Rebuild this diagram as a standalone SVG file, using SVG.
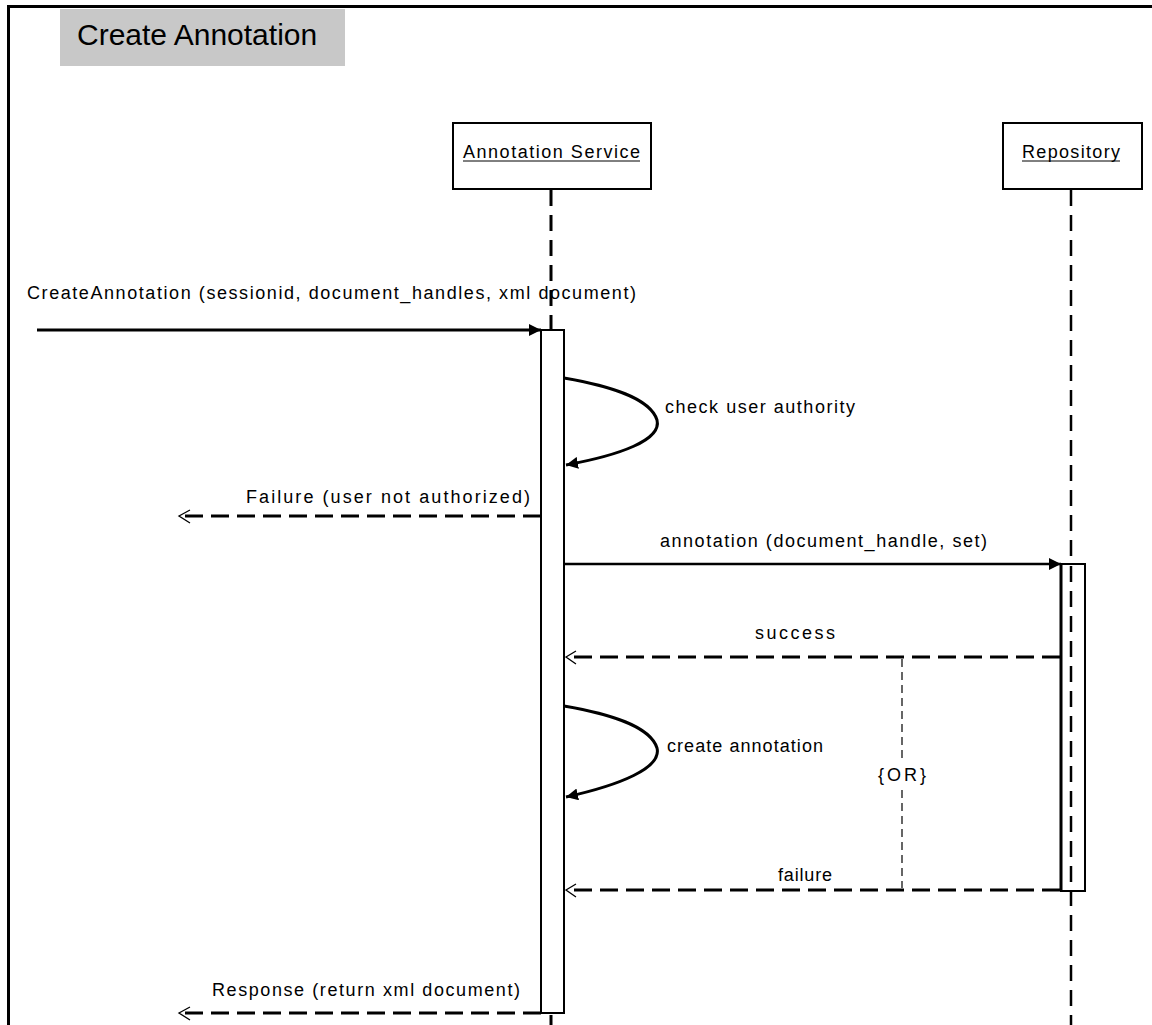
<svg xmlns="http://www.w3.org/2000/svg" width="1152" height="1025" viewBox="0 0 1152 1025">
  <defs>
    <style>
      .lbl { font-family: "Liberation Sans", Arial, sans-serif; font-size: 18px; fill: #000; }
      .title { font-family: "Liberation Sans", Arial, sans-serif; font-size: 30px; fill: #000; }
      .box { fill: #fff; stroke: #000; stroke-width: 2; }
      .act { fill: #fff; stroke: #000; stroke-width: 2; }
      .life { stroke: #000; stroke-width: 3; stroke-dasharray: 16 9; fill: none; }
      .call { stroke: #000; stroke-width: 2.5; fill: none; }
      .ret { stroke: #000; stroke-width: 3; stroke-dasharray: 18 8; fill: none; }
      .self { stroke: #000; stroke-width: 3; fill: none; }
      .open { stroke: #000; stroke-width: 1.3; fill: none; }
      .or { stroke: #000; stroke-width: 1.2; stroke-dasharray: 8 5; fill: none; }
    </style>
    <marker id="filled" viewBox="0 0 10 10" refX="10" refY="5" markerWidth="12" markerHeight="12" markerUnits="userSpaceOnUse" orient="auto">
      <path d="M0,0 L10,5 L0,10 Z" fill="#000"/>
    </marker>
  </defs>

  <!-- outer frame (right and bottom edges lie outside the page) -->
  <rect x="8.5" y="6.5" width="1200" height="1100" fill="none" stroke="#000" stroke-width="3"/>

  <!-- title tab -->
  <g id="title">
    <rect x="60" y="9" width="285" height="57" fill="#c8c8c8"/>
    <text class="title" x="77" y="45">Create Annotation</text>
  </g>

  <!-- lifelines -->
  <g id="lifelines">
    <line class="life" x1="551" y1="190" x2="551" y2="1025"/>
    <line class="life" x1="1071" y1="190" x2="1071" y2="1025" style="stroke-width:2.5"/>
  </g>

  <!-- participants -->
  <g id="annotation-service">
    <rect class="box" x="453" y="123" width="198" height="66"/>
    <text class="lbl" x="463" y="158" textLength="177" lengthAdjust="spacing">Annotation Service</text>
    <line x1="463" y1="161" x2="640" y2="161" stroke="#000" stroke-width="1"/>
  </g>
  <g id="repository">
    <rect class="box" x="1003" y="123" width="139" height="66"/>
    <text class="lbl" x="1022" y="158" textLength="98" lengthAdjust="spacing">Repository</text>
    <line x1="1022" y1="161" x2="1120" y2="161" stroke="#000" stroke-width="1"/>
  </g>

  <!-- activation bars -->
  <g id="activation-service">
    <rect class="act" x="541" y="330" width="23" height="683"/>
  </g>
  <g id="activation-repository">
    <rect class="act" x="1061" y="564" width="24" height="327"/>
    <line x1="1061" y1="564" x2="1061" y2="891" stroke="#000" stroke-width="3"/>
    <line class="life" x1="1071" y1="566" x2="1071" y2="890" style="stroke-width:2.5"/>
  </g>

  <!-- messages -->
  <g id="connectors">
    <!-- incoming request -->
    <line class="call" x1="37" y1="330" x2="541" y2="330" style="stroke-width:3" marker-end="url(#filled)"/>

    <!-- check user authority (self call) -->
    <path class="self" d="M564,378 C610,386 650,398 657,420 C662,440 620,455 566,465" marker-end="url(#filled)"/>

    <!-- failure reply to caller -->
    <line class="ret" x1="541" y1="516" x2="182" y2="516"/>
    <path class="open" d="M190,510 L179,516 L190,523"/>

    <!-- store annotation in repository -->
    <line class="call" x1="564" y1="564" x2="1061" y2="564" marker-end="url(#filled)"/>

    <!-- success reply -->
    <line class="ret" x1="1060" y1="657" x2="569" y2="657"/>
    <path class="open" d="M576,651 L566,657 L576,664"/>

    <!-- create annotation (self call) -->
    <path class="self" d="M564,706 C610,714 650,726 657,748 C662,768 620,785 566,797" marker-end="url(#filled)"/>

    <!-- failure reply -->
    <line class="ret" x1="1060" y1="890" x2="569" y2="890"/>
    <path class="open" d="M576,884 L566,890 L576,897"/>

    <!-- alternative constraint -->
    <line class="or" x1="902" y1="659" x2="902" y2="762"/>
    <line class="or" x1="902" y1="790" x2="902" y2="888"/>

    <!-- response to caller -->
    <line class="ret" x1="541" y1="1013" x2="182" y2="1013"/>
    <path class="open" d="M190,1007 L179,1013 L190,1020"/>
  </g>

  <!-- message labels -->
  <g id="labels">
    <text class="lbl" x="27" y="299" textLength="609" lengthAdjust="spacing">CreateAnnotation (sessionid, document_handles, xml document)</text>
    <text class="lbl" x="665" y="413" textLength="190" lengthAdjust="spacing">check user authority</text>
    <text class="lbl" x="246" y="503" textLength="284" lengthAdjust="spacing">Failure (user not authorized)</text>
    <text class="lbl" x="660" y="547" textLength="327" lengthAdjust="spacing">annotation (document_handle, set)</text>
    <text class="lbl" x="755" y="639" textLength="80" lengthAdjust="spacing">success</text>
    <text class="lbl" x="667" y="752" textLength="156" lengthAdjust="spacing">create annotation</text>
    <text class="lbl" x="878" y="781" textLength="48" lengthAdjust="spacing">{OR}</text>
    <text class="lbl" x="778" y="881" textLength="54" lengthAdjust="spacing">failure</text>
    <text class="lbl" x="212" y="996" textLength="308" lengthAdjust="spacing">Response (return xml document)</text>
  </g>
</svg>
